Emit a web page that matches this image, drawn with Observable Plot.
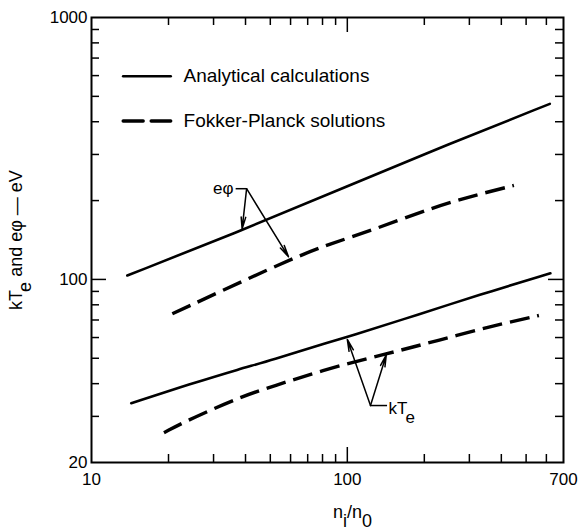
<!DOCTYPE html>
<html>
<head>
<meta charset="utf-8">
<script src="https://cdn.jsdelivr.net/npm/d3@7"></script>
<script src="https://cdn.jsdelivr.net/npm/@observablehq/plot@0.6"></script>
<style>
  body { margin: 0; background: #fff; }
  g[aria-label="legend-text"] text { letter-spacing: 0.5px; }
  g[aria-label="y-title"] text { letter-spacing: 1px; }
</style>
</head>
<body>
<div id="chart"></div>
<script>
// ---- Data ----
// e·phi, analytical calculations (solid)
const ephiAnalyticalX = [13.8, 38.2, 100, 246, 619];
const ephiAnalyticalY = [103.5, 153, 227, 327, 468];
// e·phi, Fokker-Planck solutions (dashed)
const ephiFokkerX = [20.7, 60, 85.9, 127, 218, 312, 448];
const ephiFokkerY = [73.9, 119.9, 136.8, 155, 188.7, 209.1, 228.4];
// kTe, analytical calculations (solid)
const kTeAnalyticalX = [14.3, 24.4, 38.2, 50.1, 85.9, 100, 193, 322, 622];
const kTeAnalyticalY = [33.7, 39.9, 45.6, 49.0, 57.9, 60.2, 73.9, 86.8, 105.6];
// kTe, Fokker-Planck solutions (dashed)
const kTeFokkerX = [19.2, 24.4, 39.4, 50.1, 85.9, 143, 225, 374, 561];
const kTeFokkerY = [26.0, 29.4, 36.0, 38.8, 46.0, 52.0, 58.4, 66.7, 72.8];

// Ticks and labels
const xMinorTicks = [20, 30, 40, 50, 60, 70, 80, 90, 200, 300, 400, 500, 600];
const xMajorTicks = [100];
const yMinorTicks = [30, 40, 50, 60, 70, 80, 90, 200, 300, 400, 500, 600, 700, 800, 900];
const yMajorTicks = [100];
const xTickLabels = [10, 100, 700];
const yTickLabels = [20, 100, 1000];

// Texts
const legendLabels = ["Analytical calculations", "Fokker-Planck solutions"];
const xTitle = "n_i/n_0";
const yTitle = "kT_e and eφ — eV";
const ephiLabel = "eφ";
const kTeLabel = "kT_e";

// ---- Layout (annotation anchors in data units) ----
const legendLineX = [13.3, 20.4];
const legendTextX = 22.9;
const legendRowY = [597, 402.6];
const ephiVertex = {x: 40.4, y: 222};
const ephiTextEnd = {x: 35.9, bx: 36.6};
const ephiTips = [{x: 38.8, y: 156}, {x: 58.9, y: 122}];
const kTeVertex = {x: 123.2, y: 33};
const kTeTextStart = {x: 145, y: 32, bx: 143};
const kTeTips = [{x: 100, y: 59}, {x: 142, y: 51.5}];

const W = 578, H = 531;
const mt = 17, mb = 69, ml = 91, mr = 15;
const plotW = W - ml - mr, plotH = H - mt - mb;
const minorLen = 8, majorLen = 15;

const zip = (xs, ys) => xs.map((x, i) => ({x, y: ys[i]}));
const solid = {stroke: "#000", strokeWidth: 2.6, curve: "basis"};
const dashed = {stroke: "#000", strokeWidth: 3.4, strokeDasharray: "20,8", strokeLinecap: "butt", curve: "basis"};

const tickStyle = {stroke: "#000", strokeWidth: 1.5};

const svg = Plot.plot({
  width: W, height: H,
  marginTop: mt, marginRight: mr, marginBottom: mb, marginLeft: ml,
  x: {type: "log", domain: [10, 700], axis: null},
  y: {type: "log", domain: [20, 1000], axis: null},
  style: {fontFamily: "'Liberation Sans', Arial, sans-serif", fontSize: "17px", background: "#fff", color: "#000"},
  marks: [
    // ticks: bottom, top, left, right (all inward)
    Plot.tickX(xMinorTicks, {x: d => d, insetTop: plotH - minorLen, ...tickStyle}),
    Plot.tickX(xMajorTicks, {x: d => d, insetTop: plotH - majorLen, ...tickStyle}),
    Plot.tickX(xMinorTicks, {x: d => d, insetBottom: plotH - minorLen, ...tickStyle}),
    Plot.tickX(xMajorTicks, {x: d => d, insetBottom: plotH - majorLen, ...tickStyle}),
    Plot.tickY(yMinorTicks, {y: d => d, insetRight: plotW - minorLen, ...tickStyle}),
    Plot.tickY(yMajorTicks, {y: d => d, insetRight: plotW - majorLen, ...tickStyle}),
    Plot.tickY(yMinorTicks, {y: d => d, insetLeft: plotW - minorLen, ...tickStyle}),
    Plot.tickY(yMajorTicks, {y: d => d, insetLeft: plotW - majorLen, ...tickStyle}),
    Plot.frame({stroke: "#000", strokeWidth: 2}),
    // tick labels
    Plot.text(yTickLabels, {y: d => d, text: d => String(d), frameAnchor: "left", textAnchor: "end", dx: -4, fontSize: 17}),
    Plot.text(xTickLabels, {x: d => d, text: d => String(d), frameAnchor: "bottom", lineAnchor: "top", dy: 10, fontSize: 17}),
    // axis titles
    Plot.text([xTitle], {text: d => d, frameAnchor: "bottom", lineAnchor: "middle", textAnchor: "middle", dx: 25, dy: 50, fontSize: 18}),
    Plot.text([yTitle], {text: d => d, frameAnchor: "left", textAnchor: "middle", lineAnchor: "middle", dx: -75, rotate: -90, fontSize: 18, ariaLabel: "y-title"}),
    // data lines
    Plot.line(zip(ephiAnalyticalX, ephiAnalyticalY), {x: "x", y: "y", ...solid}),
    Plot.line(zip(ephiFokkerX, ephiFokkerY), {x: "x", y: "y", ...dashed}),
    Plot.line(zip(kTeAnalyticalX, kTeAnalyticalY), {x: "x", y: "y", ...solid}),
    Plot.line(zip(kTeFokkerX, kTeFokkerY), {x: "x", y: "y", ...dashed}),
    // legend
    Plot.line(legendLineX.map(x => ({x, y: legendRowY[0]})), {x: "x", y: "y", stroke: "#000", strokeWidth: 2.6}),
    Plot.line(legendLineX.map(x => ({x, y: legendRowY[1]})), {x: "x", y: "y", stroke: "#000", strokeWidth: 3.4, strokeDasharray: "20,8"}),
    Plot.text(legendLabels, {x: () => legendTextX, y: (d, i) => legendRowY[i], text: d => d, textAnchor: "start", fontSize: 19, ariaLabel: "legend-text"}),
    // e-phi annotation
    Plot.text([ephiLabel], {x: () => ephiTextEnd.x, y: () => ephiVertex.y, text: d => d, textAnchor: "end", fontSize: 17}),
    Plot.link([ephiVertex], {x1: () => ephiTextEnd.bx, y1: d => d.y, x2: d => d.x, y2: d => d.y, stroke: "#000", strokeWidth: 1.5}),
    Plot.arrow(ephiTips, {x1: () => ephiVertex.x, y1: () => ephiVertex.y, x2: "x", y2: "y", stroke: "#000", strokeWidth: 1.5, headLength: 12, headAngle: 22}),
    // kTe annotation
    Plot.text([kTeLabel], {x: () => kTeTextStart.x, y: () => kTeTextStart.y, text: d => d, textAnchor: "start", fontSize: 17}),
    Plot.link([kTeVertex], {x1: d => d.x, y1: d => d.y, x2: () => kTeTextStart.bx, y2: d => d.y, stroke: "#000", strokeWidth: 1.5}),
    Plot.arrow(kTeTips, {x1: () => kTeVertex.x, y1: () => kTeVertex.y, x2: "x", y2: "y", stroke: "#000", strokeWidth: 1.5, headLength: 12, headAngle: 22})
  ]
});

// Turn "_x" into lowered subscript tspans
function applySubscripts(root) {
  const ns = "http://www.w3.org/2000/svg";
  root.querySelectorAll("text").forEach(el => {
    const s = el.textContent;
    if (!s.includes("_")) return;
    while (el.firstChild) el.removeChild(el.firstChild);
    let lowered = false;
    let buf = "";
    const flush = () => {
      if (!buf) return;
      const ts = document.createElementNS(ns, "tspan");
      ts.textContent = buf;
      if (lowered) ts.setAttribute("dy", "-0.5em");
      lowered = false;
      el.appendChild(ts);
      buf = "";
    };
    for (let i = 0; i < s.length; i++) {
      if (s[i] === "_" && i + 1 < s.length) {
        flush();
        const ts = document.createElementNS(ns, "tspan");
        ts.textContent = s[i + 1];
        if (!lowered) ts.setAttribute("dy", "0.5em");
        lowered = true;
        el.appendChild(ts);
        i++;
      } else {
        buf += s[i];
      }
    }
    flush();
  });
}
applySubscripts(svg);
document.getElementById("chart").appendChild(svg);
</script>
</body>
</html>
